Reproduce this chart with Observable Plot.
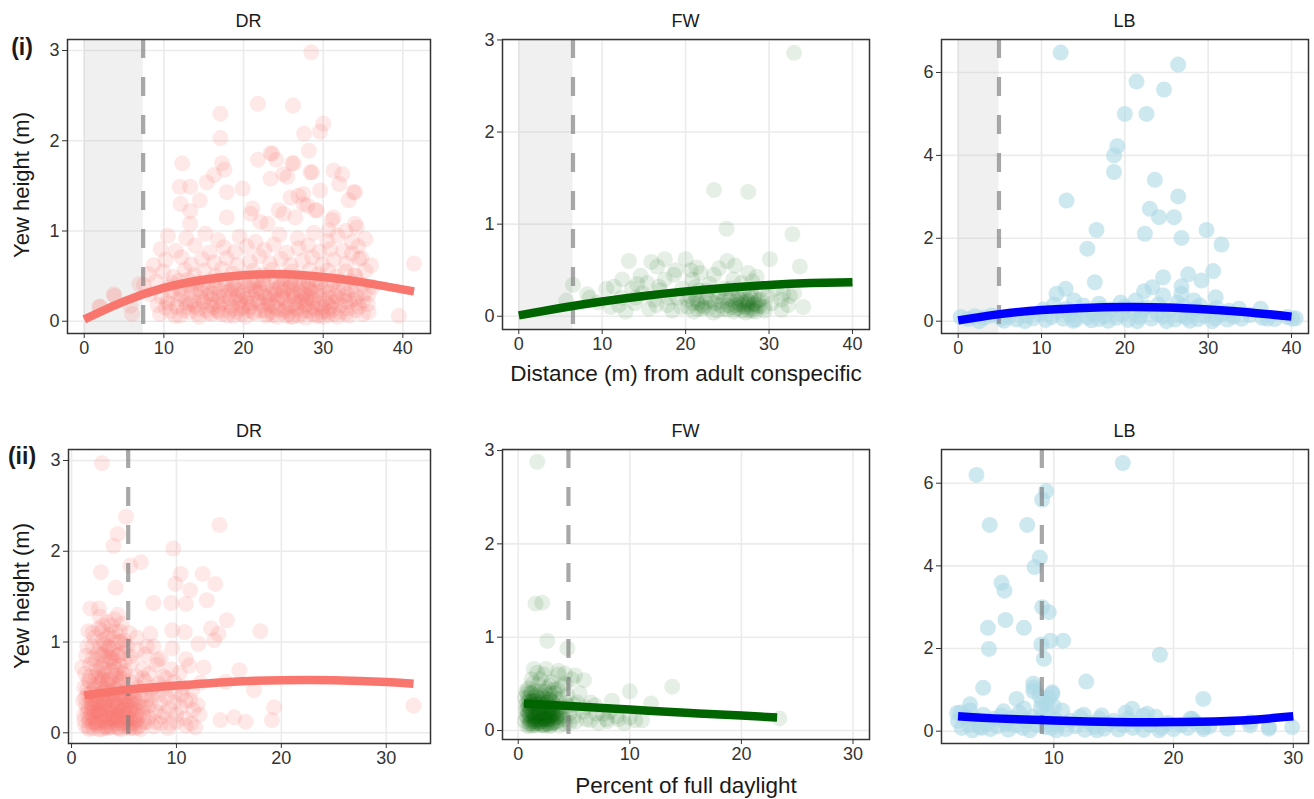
<!DOCTYPE html>
<html>
<head>
<meta charset="utf-8">
<script src="https://cdn.jsdelivr.net/npm/d3@7"></script>
<script src="https://cdn.jsdelivr.net/npm/@observablehq/plot@0.6"></script>
<style>
  body { margin: 0; background: #fff; }
  #root { position: relative; width: 1314px; height: 799px; overflow: hidden; font-family: "Liberation Sans", Arial, sans-serif; }
  .lbl { position: absolute; transform: translate(-50%, -50%); white-space: nowrap; color: #1a1a1a; }
  .panel { position: absolute; }
</style>
</head>
<body>
<div id="root"></div>
<script>
// ---------- data ----------
const sites = ["DR", "FW", "LB"];
const rowTags = ["(i)", "(ii)"];
const yTitle = "Yew height (m)";
const distTitle = "Distance (m) from adult conspecific";
const lightTitle = "Percent of full daylight";

const distTicks = [0, 10, 20, 30, 40];
const lightTicksDR = [0, 10, 20, 30];
const lightTicksFW = [0, 10, 20, 30];
const lightTicksLB = [10, 20, 30];
const yTicksSmall = [0, 1, 2, 3];
const yTicksLarge = [0, 2, 4, 6];

// thresholds (dashed lines) and shaded zones
const distThreshold = [7.4, 6.5, 4.9];
const lightThreshold = [5.4, 4.5, 9.0];

// (i) DR: distance vs height
const drDistPts = [
 [28.5,2.98],[21.8,2.41],[26.2,2.39],[17.1,2.30],[17.1,2.03],[30.0,2.19],[29.6,2.10],[27.6,2.08],[28.2,1.89],[12.3,1.75],
 [21.8,1.79],[23.4,1.86],[24.1,1.79],[26.3,1.75],[17.3,1.75],[17.6,1.68],[16.3,1.62],[28.4,1.65],[31.3,1.67],[32.4,1.63],
 [23.4,1.58],[25.0,1.63],[12.0,1.49],[13.3,1.49],[15.4,1.54],[19.9,1.47],[17.9,1.43],[34.0,1.43],[32.0,1.52],[33.2,1.34],
 [25.9,1.37],[27.5,1.41],[12.1,1.30],[13.3,1.22],[14.5,1.34],[29.0,1.23],[27.5,1.30],[31.3,1.15],[25.0,1.19],[17.9,1.15],
 [20.9,1.19],[13.3,1.08],[23.0,1.08],[34.2,1.04],[35.3,0.91],[32.8,1.00],[23.6,1.86],[26.1,1.75],[25.5,1.60],[28.6,1.65],
 [33.8,1.43],[26.9,1.39],[29.6,1.45],[29.2,1.23],[28.0,1.28],[24.4,1.23],[21.1,1.25],[22.1,1.10],[26.5,1.15],[31.1,1.12],
 [34.0,1.08],[30.7,1.01],[34.5,0.69],[33.6,0.75],[41.4,0.64],[35.7,0.30],[39.5,0.06],[35.7,0.10],[1.9,0.16],[3.8,0.28],
 [6.9,0.41],[5.8,0.17],[3.7,0.30],[6.0,0.08],[2.0,0.16],[34.0,0.50],[35.0,0.23],
 [10.5,0.95],[12.8,0.92],[15.2,0.97],[16.8,0.90],[19.5,0.94],[21.5,0.88],[24.5,0.96],[26.8,0.92],[28.8,0.98],[30.5,0.89],[31.8,0.95],[33.6,0.88],
 [9.6,0.80],[11.5,0.78],[13.9,0.84],[15.7,0.76],[17.5,0.82],[18.9,0.77],[20.4,0.83],[22.6,0.79],[23.8,0.85],[25.4,0.76],[26.9,0.81],[28.1,0.84],[29.5,0.77],[30.9,0.80],[32.5,0.78],[34.4,0.83],
 [8.7,0.62],[10.2,0.68],[12.2,0.71],[13.4,0.63],[14.8,0.69],[16.3,0.65],[17.9,0.70],[19.2,0.62],[20.8,0.66],[22.0,0.72],[23.3,0.64],[24.7,0.69],[25.9,0.62],[27.4,0.67],[28.6,0.71],[29.9,0.63],[31.3,0.68],[32.9,0.64],[34.8,0.70],[36.0,0.62],
 [8.1,0.52],[9.9,0.55],[11.2,0.49],[12.6,0.57],[13.8,0.51],[15.1,0.56],[16.5,0.50],[17.3,0.58],[18.6,0.53],[19.9,0.49],[21.2,0.56],[22.4,0.51],[23.6,0.57],[24.9,0.50],[26.1,0.55],[27.2,0.49],[28.3,0.57],[29.4,0.52],[30.6,0.56],[31.7,0.50],[32.8,0.55],[34.0,0.51],[35.3,0.56],
 [7.5,0.40],[9.0,0.44],[10.6,0.38],[11.9,0.45],[13.1,0.39],[14.2,0.43],[15.5,0.37],[16.6,0.45],[17.8,0.41],[18.9,0.36],[20.1,0.44],[21.3,0.39],[22.5,0.46],[23.6,0.38],[24.8,0.43],[25.9,0.37],[27.0,0.44],[28.1,0.40],[29.2,0.46],[30.3,0.38],[31.4,0.43],[32.6,0.37],[33.7,0.44],[35.0,0.40],[36.2,0.38],
 [8.3,0.30],[9.7,0.27],[11.0,0.33],[12.3,0.28],[13.5,0.32],[14.6,0.26],[15.8,0.31],[16.9,0.27],[18.1,0.33],[19.3,0.29],[20.4,0.25],[21.6,0.32],[22.7,0.28],[23.9,0.34],[25.0,0.26],[26.2,0.31],[27.3,0.27],[28.5,0.33],[29.6,0.28],[30.7,0.32],[31.9,0.26],[33.0,0.30],[34.2,0.27],[35.2,0.31],
 [9.2,0.18],[10.4,0.22],[11.6,0.16],[12.8,0.21],[13.9,0.17],[15.0,0.22],[16.2,0.15],[17.4,0.20],[18.5,0.17],[19.6,0.23],[20.8,0.16],[21.9,0.21],[23.1,0.18],[24.2,0.22],[25.4,0.15],[26.5,0.20],[27.7,0.17],[28.8,0.22],[29.9,0.16],[31.1,0.21],[32.2,0.18],[33.3,0.22],[34.5,0.16],[35.6,0.19],
 [9.5,0.08],[10.8,0.11],[12.0,0.06],[13.2,0.10],[14.4,0.05],[15.6,0.09],[16.8,0.12],[18.0,0.06],[19.1,0.10],[20.3,0.05],[21.4,0.09],[22.6,0.12],[23.7,0.07],[24.9,0.10],[26.0,0.05],[27.2,0.09],[28.3,0.11],[29.5,0.06],[30.6,0.10],[31.8,0.05],[32.9,0.09],[34.1,0.12],
 [18.3,0.25],[19.7,0.14],[20.9,0.35],[22.1,0.12],[23.2,0.24],[24.4,0.13],[25.6,0.36],[26.7,0.13],[27.8,0.24],[28.9,0.14],[30.0,0.35],[31.2,0.13],[14.0,0.35],[15.3,0.12],[16.0,0.25],[17.1,0.34],[25.1,0.47],[26.4,0.42],[27.6,0.30],[28.0,0.19],[29.0,0.40],[30.2,0.24],[24.0,0.30],[21.0,0.20],[19.0,0.42],[22.9,0.40],[26.0,0.28],[28.7,0.08],[25.8,0.18],[27.0,0.06],
 [10.2,0.15],[11.1,0.42],[11.8,0.24],[12.5,0.12],[13.0,0.46],[13.7,0.22],[14.3,0.14],[14.9,0.40],[15.4,0.28],[16.0,0.08],[16.4,0.38],[17.0,0.18],[17.6,0.28],[18.2,0.10],[18.7,0.40],[19.4,0.20],[19.9,0.32],[20.6,0.12],[21.1,0.27],[21.7,0.44],[22.3,0.18],[22.8,0.06],[23.4,0.30],[24.0,0.15],[24.6,0.38],[25.2,0.22],[25.7,0.09],[26.3,0.34],[26.9,0.22],[27.5,0.42],[28.0,0.28],[28.6,0.16],[29.2,0.33],[29.8,0.10],[30.4,0.20],[31.0,0.40],[31.6,0.28],[32.2,0.10],[32.8,0.22],[33.5,0.35],[34.3,0.20],[35.0,0.08],
 [12.0,0.36],[13.3,0.19],[14.6,0.33],[15.9,0.18],[17.2,0.08],[18.4,0.35],[19.8,0.08],[21.0,0.43],[22.2,0.32],[23.5,0.10],[24.7,0.25],[25.9,0.44],[27.1,0.21],[28.3,0.36],[29.5,0.19],[30.7,0.07],[31.9,0.35],[33.1,0.14],[34.0,0.38],
 [20.0,0.16],[22.0,0.36],[24.2,0.05],[26.5,0.27],[28.9,0.25],[30.9,0.16],[25.0,0.33],[27.7,0.12],[23.0,0.21],[19.0,0.26],
 [10.6,0.20],[11.4,0.06],[12.1,0.30],[12.9,0.16],[13.6,0.40],[14.2,0.09],[14.9,0.21],[15.6,0.44],[16.3,0.30],[16.9,0.10],[17.5,0.38],[18.1,0.22],[18.8,0.06],[19.4,0.34],[20.0,0.28],[20.6,0.40],[21.2,0.10],[21.8,0.24],[22.4,0.42],[23.0,0.08],[23.6,0.18],[24.2,0.36],[24.8,0.28],[25.4,0.06],[26.0,0.40],[26.6,0.16],[27.2,0.32],[27.8,0.04],[28.4,0.26],[29.0,0.06],[29.6,0.42],[30.2,0.12],[30.8,0.26],[31.4,0.08],[32.0,0.44],[32.6,0.28],[33.2,0.06],[33.9,0.24],[20.4,0.20],[22.9,0.26],[25.3,0.12],[27.9,0.36],[30.0,0.05],[31.5,0.22],[18.6,0.14],[16.7,0.22],[24.1,0.44],[26.2,0.05],[28.2,0.44],[21.5,0.34]
];
const drDistFitX = [0.0, 5, 10, 15, 20, 25, 30, 35, 41.4];
const drDistFitY = [0.02, 0.22, 0.37, 0.46, 0.51, 0.52, 0.49, 0.43, 0.33];

// (i) FW: distance vs height
const fwDistPts = [
 [33.0,2.86],[23.4,1.37],[27.5,1.35],[24.9,0.95],[32.8,0.89],[33.7,0.54],[30.1,0.62],[20.0,0.62],[17.5,0.62],[13.2,0.60],
 [15.9,0.59],[16.6,0.54],[25.0,0.60],[25.9,0.55],[21.3,0.53],[27.5,0.47],[28.5,0.43],[12.4,0.40],[14.6,0.44],[14.2,0.35],
 [6.5,0.34],[5.7,0.17],[8.2,0.24],[11.4,0.32],[18.6,0.45],[20.6,0.50],[23.4,0.45],[31.7,0.24],[32.5,0.22],[34.1,0.10],[31.5,0.07],
 [9.5,0.15],[11.0,0.10],[12.3,0.20],[12.8,0.05],[13.9,0.14],[14.8,0.25],[15.6,0.08],[16.2,0.18],[17.0,0.28],[17.8,0.12],
 [18.4,0.06],[19.0,0.20],[19.6,0.30],[20.3,0.10],[20.8,0.40],[21.0,0.05],[21.3,0.18],[21.6,0.28],[22.0,0.08],[22.4,0.15],
 [22.9,0.35],[23.3,0.04],[23.8,0.22],[24.2,0.12],[24.6,0.30],[25.0,0.07],[25.3,0.18],[25.7,0.40],[26.0,0.12],[26.4,0.25],
 [26.8,0.06],[27.1,0.15],[27.4,0.10],[27.8,0.20],[28.1,0.13],[28.4,0.05],[28.7,0.17],[29.0,0.28],[29.4,0.10],[29.8,0.22],
 [30.3,0.14],[30.8,0.30],[31.5,0.18],[32.3,0.12],[33.0,0.25],[17.5,0.40],[18.8,0.50],[15.4,0.36],[13.6,0.30],[21.8,0.47],
 [24.0,0.52],[26.7,0.36],[28.0,0.38],[21.2,0.32],[27.0,0.28],[20.5,0.22],[26.3,0.09],[22.8,0.09],[24.8,0.20],[28.6,0.09],
 [27.6,0.06],[10.5,0.30],[8.5,0.20],[16.8,0.32],[20.9,0.14],[21.4,0.08],[21.9,0.12],[25.5,0.10],[26.1,0.16],[26.9,0.12],
 [27.3,0.18],[27.9,0.09],[28.3,0.14],[28.9,0.11],[25.8,0.05],[27.2,0.04],[26.5,0.13],[24.5,0.08],[22.5,0.20],[23.5,0.14],
 [21.1,0.24],[27.5,0.13],[28.2,0.21],[26.2,0.20],
 [20.2,0.18],[21.5,0.14],[22.2,0.10],[23.0,0.17],[23.8,0.06],[24.4,0.16],[25.1,0.12],[25.6,0.22],[26.0,0.08],[26.6,0.18],
 [27.0,0.10],[27.5,0.16],[28.0,0.06],[28.5,0.12],[29.0,0.18],[29.5,0.06],[22.6,0.28],[24.0,0.26],[25.4,0.30],[27.8,0.26],
 [19.5,0.10],[18.0,0.20],[16.5,0.12],[14.0,0.20],[12.0,0.12]
];
const fwDistFitX = [0, 5, 10, 15, 20, 25, 30, 35, 40];
const fwDistFitY = [0.01, 0.09, 0.16, 0.22, 0.27, 0.31, 0.34, 0.36, 0.37];

// (i) LB: distance vs height
const lbDistPts = [
 [12.3,6.48],[26.4,6.19],[21.4,5.78],[24.7,5.59],[20.0,5.00],[22.6,5.00],[19.1,4.22],[18.7,4.00],[18.7,3.60],[23.6,3.41],
 [26.4,3.01],[13.0,2.91],[23.0,2.71],[24.1,2.51],[25.9,2.51],[16.6,2.20],[29.8,2.20],[22.4,2.11],[26.8,2.01],[15.5,1.75],
 [31.6,1.85],[30.6,1.21],[27.6,1.13],[24.6,1.06],[29.2,0.98],[16.4,0.94],[26.8,0.84],[23.3,0.82],[22.3,0.72],[12.9,0.78],
 [11.8,0.66],[26.8,0.66],[24.6,0.62],[30.9,0.58],[13.9,0.50],[16.9,0.42],[21.3,0.50],[28.3,0.50],[33.7,0.30],[36.3,0.30],
 [37.1,0.06],[40.1,0.06],
 [0.3,0.10],[1.2,0.05],[2.0,0.12],[3.1,0.08],[4.0,0.14],[5.2,0.06],[6.1,0.11],[7.0,0.04],[8.2,0.13],[9.0,0.07],
 [9.8,0.18],[10.5,0.03],[11.2,0.10],[12.0,0.22],[12.6,0.06],[13.4,0.15],[14.1,0.04],[14.8,0.25],[15.5,0.09],[16.2,0.17],
 [16.9,0.05],[17.6,0.12],[18.3,0.28],[19.0,0.08],[19.7,0.16],[20.4,0.03],[21.1,0.21],[21.8,0.10],[22.5,0.33],[23.2,0.06],
 [23.9,0.18],[24.6,0.11],[25.3,0.26],[26.0,0.04],[26.7,0.14],[27.4,0.09],[28.1,0.20],[28.8,0.05],[29.5,0.13],[30.2,0.24],
 [30.9,0.07],[31.6,0.17],[32.3,0.04],[33.0,0.11],[34.0,0.06],[35.0,0.15],[36.5,0.08],[38.0,0.05],[39.5,0.10],[40.5,0.07],
 [11.5,0.40],[15.0,0.38],[17.2,0.30],[20.0,0.35],[24.0,0.40],[27.0,0.36],[29.0,0.38],[31.0,0.32],[13.0,0.30],[19.5,0.45],
 [22.0,0.25],[26.3,0.45],[10.2,0.28],[28.5,0.30],[32.5,0.25],[16.0,0.02],[18.0,0.01],[25.0,0.00],[27.8,0.01],[30.5,0.00],
 [21.5,0.00],[13.8,0.01],[8.0,0.00],[5.5,0.01],[2.5,0.00]
];
const lbDistFitX = [0, 5, 10, 15, 20, 25, 30, 35, 40];
const lbDistFitY = [0.02, 0.17, 0.27, 0.32, 0.34, 0.33, 0.28, 0.21, 0.11];

// (ii) DR: light vs height
const drLightPts = [
 [2.9,2.97],[5.2,2.38],[14.1,2.29],[4.4,2.19],[4.0,2.06],[9.7,2.03],[6.6,1.88],[5.6,1.84],[2.8,1.77],[10.4,1.75],
 [12.5,1.75],[13.7,1.64],[9.9,1.64],[4.2,1.60],[11.3,1.57],[12.9,1.46],[7.8,1.43],[9.5,1.43],[10.9,1.42],[1.8,1.37],
 [2.6,1.37],[14.8,1.24],[13.3,1.15],[9.6,1.13],[10.8,1.11],[18.0,1.12],[14.0,1.09],[7.5,1.09],[12.1,0.98],[13.6,1.02],
 [9.6,0.93],[10.9,0.81],[16.0,0.69],[12.6,0.72],[14.7,0.56],[17.4,0.47],[32.6,0.30],[19.3,0.28],[19.1,0.14],[16.6,0.12],
 [15.5,0.17],[14.2,0.14],
 [2.2,1.05],[3.0,1.18],[3.6,1.08],[4.1,1.25],[4.6,1.12],[5.0,1.02],[2.7,1.28],[3.4,1.22],[4.8,1.20],[5.5,1.10],[1.6,1.12],[6.2,1.05],
 [1.4,0.85],[2.0,0.95],[2.5,0.88],[3.1,0.98],[3.6,0.83],[4.0,0.92],[4.5,0.86],[5.0,0.97],[5.6,0.84],[6.3,0.91],[7.0,0.86],[7.8,0.95],[8.5,0.82],[1.0,0.72],[3.3,0.90],
 [1.3,0.65],[1.8,0.75],[2.3,0.62],[2.8,0.72],[3.2,0.66],[3.7,0.78],[4.2,0.63],[4.6,0.74],[5.1,0.68],[5.7,0.77],[6.2,0.62],[6.8,0.70],[7.4,0.65],[8.1,0.75],[8.8,0.62],[9.5,0.70],[10.3,0.66],[11.2,0.74],
 [1.2,0.50],[1.7,0.57],[2.1,0.47],[2.6,0.55],[3.0,0.49],[3.5,0.58],[3.9,0.46],[4.4,0.53],[4.9,0.59],[5.3,0.48],[5.8,0.55],[6.4,0.50],[7.0,0.57],[7.6,0.47],[8.3,0.54],[9.0,0.49],[9.8,0.56],[10.6,0.50],[11.5,0.47],[12.3,0.55],
 [1.1,0.35],[1.5,0.42],[1.9,0.32],[2.3,0.40],[2.7,0.33],[3.1,0.44],[3.5,0.36],[3.9,0.41],[4.3,0.31],[4.7,0.43],[5.1,0.35],[5.6,0.40],[6.0,0.32],[6.5,0.44],[7.1,0.36],[7.7,0.41],[8.4,0.33],[9.1,0.39],[9.8,0.34],[10.5,0.42],[11.3,0.36],[12.0,0.31],
 [1.2,0.20],[1.6,0.27],[2.0,0.17],[2.4,0.25],[2.8,0.19],[3.2,0.28],[3.6,0.16],[4.0,0.24],[4.4,0.18],[4.8,0.29],[5.2,0.21],[5.6,0.15],[6.0,0.26],[6.4,0.19],[6.9,0.28],[7.4,0.17],[8.0,0.24],[8.6,0.18],[9.3,0.27],[10.0,0.20],[10.8,0.16],[11.6,0.25],
 [1.3,0.08],[1.7,0.13],[2.1,0.05],[2.5,0.11],[2.9,0.04],[3.3,0.12],[3.7,0.07],[4.1,0.14],[4.5,0.05],[4.9,0.10],[5.3,0.13],[5.7,0.06],[6.1,0.11],[6.6,0.04],[7.2,0.12],[7.8,0.07],[8.5,0.10],[9.2,0.05],[10.0,0.12],[10.9,0.08],[11.8,0.06],
 [2.0,0.30],[2.6,0.22],[3.0,0.12],[3.4,0.32],[3.8,0.22],[4.2,0.10],[4.6,0.38],[5.0,0.26],[5.4,0.08],[5.8,0.30],[2.2,0.42],[3.3,0.47],[4.0,0.52],[4.5,0.25],[2.8,0.55],[1.8,0.22],[2.4,0.09],[3.6,0.40],[4.9,0.17],[5.5,0.35],[6.2,0.14],[2.9,0.62],[3.8,0.68],[4.4,0.85],[3.5,0.95],[4.0,1.05],
 [1.2,0.14],[1.4,0.30],[1.6,0.06],[1.8,0.38],[2.0,0.22],[2.2,0.12],[2.4,0.34],[2.6,0.04],[2.8,0.26],[3.0,0.40],[3.2,0.18],[3.4,0.08],[3.6,0.28],[3.8,0.44],[4.0,0.16],[4.2,0.34],[4.4,0.06],[4.6,0.22],[4.8,0.40],[5.0,0.12],[5.2,0.30],[5.4,0.20],[5.6,0.44],[5.8,0.10],[6.0,0.36],[6.2,0.24],[6.5,0.08],[6.8,0.20],[7.0,0.42],[7.3,0.28],
 [1.5,0.48],[2.0,0.10],[2.5,0.42],[3.0,0.26],[3.5,0.05],[4.0,0.36],[4.5,0.14],[5.0,0.45],[5.5,0.24],[6.0,0.05],[1.9,0.28],[2.7,0.14],[3.4,0.20],[4.3,0.26],[5.1,0.06],[5.9,0.16],[2.3,0.18],[3.1,0.34],[3.9,0.30],[4.7,0.10],
 [1.7,0.16],[2.5,0.24],[3.3,0.06],[4.1,0.20],[4.9,0.33],[5.7,0.26],[6.4,0.34],[3.7,0.12],[2.9,0.30],[2.1,0.36],
 [1.8,0.62],[2.3,0.80],[2.7,0.95],[3.1,0.70],[3.4,1.05],[3.9,0.88],[4.3,0.70],[4.7,1.00],[5.1,0.80],[2.0,1.10],[2.5,0.68],[3.0,0.85],[3.6,0.58],[4.1,0.78],[4.6,0.60],[5.3,0.95],[2.9,1.12],[3.8,1.18],[4.4,1.30],[1.5,0.95],
 [7.5,0.30],[8.0,0.12],[8.4,0.42],[8.9,0.22],[9.4,0.10],[9.9,0.44],[10.4,0.28],[10.9,0.35],[11.4,0.10],[12.2,0.20],[7.8,0.50],[9.0,0.60],[8.2,0.80],[6.8,0.60],[7.2,0.95],
 [1.3,0.38],[1.5,0.22],[1.7,0.04],[1.9,0.44],[2.1,0.26],[2.3,0.10],[2.5,0.32],[2.7,0.20],[2.9,0.44],[3.1,0.06],[3.3,0.36],[3.5,0.24],[3.7,0.16],[3.9,0.06],[4.1,0.42],[4.3,0.18],[4.5,0.30],[4.7,0.04],[4.9,0.24],[5.1,0.40],[5.3,0.16],[5.5,0.05],[5.7,0.34],[5.9,0.42],[6.1,0.20],[6.3,0.06],[6.6,0.28],[6.9,0.12],
 [2.2,0.52],[2.6,0.60],[3.0,0.58],[3.4,0.54],[3.8,0.60],[4.2,0.48],[4.6,0.56],[5.0,0.64],[1.6,0.58],[2.4,0.72],[3.2,0.78],[4.0,0.74],[4.8,0.66],[2.0,0.82],[2.8,0.86],[3.6,0.94],[4.4,1.00],[3.0,1.02],[2.6,1.15],[3.8,0.82],[4.2,1.12],[4.9,0.88]
];
const drLightFitX = [1.2, 5, 10, 15, 20, 25, 30, 32.6];
const drLightFitY = [0.41, 0.47, 0.52, 0.56, 0.58, 0.58, 0.56, 0.54];

// (ii) FW: light vs height
const fwLightPts = [
 [1.7,2.88],[1.55,1.36],[2.15,1.37],[2.6,0.96],[4.4,0.88],[13.8,0.47],[10.0,0.42],[8.4,0.32],[6.9,0.27],[11.9,0.29],
 [23.4,0.13],[5.9,0.54],[5.1,0.59],[1.4,0.66],[2.5,0.66],[3.6,0.64],[4.2,0.61],[11.1,0.11],[10.0,0.14],[7.9,0.12],[6.5,0.11],[10.5,0.11],
 [0.6,0.35],[0.8,0.15],[0.9,0.45],[1.0,0.25],[1.1,0.08],[1.2,0.55],[1.3,0.32],[1.4,0.18],[1.5,0.42],[1.6,0.10],
 [1.7,0.28],[1.8,0.50],[1.9,0.20],[2.0,0.06],[2.1,0.38],[2.2,0.15],[2.3,0.60],[2.4,0.26],[2.5,0.10],[2.6,0.45],
 [2.7,0.20],[2.8,0.33],[2.9,0.05],[3.0,0.52],[3.1,0.16],[3.2,0.28],[3.3,0.40],[3.4,0.09],[3.5,0.22],[3.6,0.60],
 [3.7,0.34],[3.8,0.14],[3.9,0.48],[4.0,0.25],[4.2,0.07],[4.4,0.38],[4.6,0.18],[4.8,0.55],[5.0,0.28],[5.2,0.10],
 [5.5,0.40],[5.8,0.20],[6.1,0.12],[6.5,0.30],[7.2,0.08],[7.6,0.18],[8.0,0.10],[8.8,0.15],[9.5,0.08],[0.7,0.22],
 [1.0,0.12],[1.3,0.05],[1.6,0.20],[1.9,0.12],[2.2,0.30],[2.5,0.18],[2.8,0.12],[3.1,0.24],[1.2,0.28],[1.5,0.15],
 [1.8,0.08],[2.1,0.22],[2.4,0.13],[2.7,0.08],[3.0,0.19],[3.3,0.13],[0.9,0.18],[1.4,0.35],[2.0,0.42],[2.6,0.30],
 [3.5,0.15],[4.1,0.12],[4.5,0.26],[1.1,0.40],[1.7,0.62],[2.9,0.40],[0.8,0.30],[1.3,0.12],[2.3,0.05],[3.7,0.05],
 [0.6,0.10],[0.7,0.28],[0.8,0.05],[0.9,0.35],[1.0,0.18],[1.1,0.30],[1.2,0.10],[1.3,0.22],[1.4,0.06],[1.5,0.32],
 [1.6,0.15],[1.7,0.24],[1.8,0.35],[1.9,0.08],[2.0,0.18],[2.1,0.28],[2.2,0.06],[2.3,0.20],[2.4,0.34],[2.5,0.12],
 [2.6,0.24],[2.7,0.15],[2.8,0.05],[2.9,0.22],[3.0,0.32],[3.1,0.08],[3.2,0.18],[3.3,0.26],[3.4,0.15],[3.6,0.10],
 [3.8,0.22],[4.0,0.16],[4.3,0.30],[4.6,0.08],[5.0,0.15],[0.8,0.22],[1.1,0.16],[1.4,0.26],[1.7,0.12],[2.0,0.25],
 [2.3,0.13],[2.6,0.07],[2.9,0.14],[3.2,0.09],[1.0,0.05],[1.6,0.06],[2.2,0.36],[0.7,0.42],[1.3,0.50],[2.0,0.55],
 [2.8,0.48],[3.5,0.44],[4.2,0.50],[5.3,0.30],[6.0,0.25],[7.0,0.18],[8.2,0.20],[9.0,0.12],
 [0.7,0.16],[0.9,0.26],[1.0,0.08],[1.2,0.20],[1.3,0.30],[1.5,0.10],[1.6,0.28],[1.8,0.18],[1.9,0.30],[2.1,0.10],
 [2.2,0.24],[2.4,0.06],[2.5,0.30],[2.7,0.22],[2.8,0.16],[3.0,0.08],[3.1,0.30],[3.3,0.20],[3.4,0.34],[3.6,0.18],
 [0.8,0.40],[1.2,0.40],[1.6,0.38],[2.0,0.34],[2.4,0.42],[2.8,0.38],[3.2,0.44],[1.1,0.22],[1.5,0.08],[1.9,0.16],
 [2.3,0.27],[2.7,0.12],[3.1,0.18],[1.4,0.14],[1.8,0.24],[2.2,0.12],[2.6,0.20],[3.0,0.25],[1.0,0.32],[2.0,0.10]
];
const fwLightFitX = [0.5, 5, 10, 15, 20, 23.2];
const fwLightFitY = [0.29, 0.26, 0.225, 0.19, 0.16, 0.14];

// (ii) LB: light vs height
const lbLightPts = [
 [3.54,6.20],[15.76,6.49],[9.37,5.81],[9.03,5.60],[4.65,4.99],[7.78,4.99],[8.83,4.20],[8.39,3.97],[5.63,3.59],[5.88,3.40],
 [9.03,3.00],[9.58,2.88],[5.96,2.69],[4.49,2.50],[7.50,2.50],[4.58,1.99],[10.78,2.19],[9.72,2.19],[8.95,2.10],[9.17,1.75],
 [18.86,1.85],[12.71,1.20],[4.10,1.05],[8.28,1.15],[8.28,0.97],[9.87,0.94],[6.88,0.78],[22.48,0.78],[3.0,0.65],[16.55,0.54],
 [1.93,0.44],[29.9,0.10],[27.96,0.10],[26.4,0.22],[21.56,0.30],[22.48,0.10],[8.33,1.06],[9.87,0.90],[27.96,0.06],[26.4,0.14],
 [17.8,0.42],[21.4,0.30],
 [2.0,0.25],[2.3,0.08],[2.6,0.35],[2.9,0.15],[3.2,0.02],[3.5,0.28],[3.8,0.10],[4.1,0.40],[4.4,0.18],[4.7,0.05],
 [5.0,0.30],[5.3,0.12],[5.6,0.38],[5.9,0.22],[6.2,0.04],[6.5,0.32],[6.8,0.14],[7.1,0.45],[7.4,0.08],[7.7,0.25],
 [8.0,0.02],[8.3,0.35],[8.6,0.15],[8.9,0.55],[9.2,0.22],[9.5,0.42],[9.8,0.08],[10.1,0.30],[10.4,0.16],[10.7,0.50],
 [11.0,0.05],[11.4,0.25],[11.8,0.12],[12.2,0.35],[12.6,0.03],[13.0,0.20],[13.4,0.10],[13.8,0.30],[14.2,0.06],[14.6,0.18],
 [15.0,0.25],[15.4,0.04],[15.8,0.14],[16.2,0.30],[16.6,0.08],[17.0,0.20],[17.5,0.03],[18.0,0.15],[18.5,0.35],[19.0,0.08],
 [19.5,0.20],[20.0,0.05],[20.6,0.15],[21.2,0.08],[21.8,0.22],[22.5,0.05],[23.0,0.12],[24.5,0.06],[9.0,0.70],[9.4,0.65],
 [9.6,0.80],[8.8,0.85],[10.0,0.60],[3.0,0.50],[2.2,0.45],[5.8,0.48],[7.5,0.55],[12.5,0.40],[14.0,0.38],[16.0,0.45],
 [17.5,0.38],[9.3,0.10],[9.0,0.35],[10.2,0.02],[6.0,0.18],[4.0,0.08],[13.6,0.02],[18.8,0.02]
];
const lbLightFitX = [2, 5, 10, 15, 20, 25, 30];
const lbLightFitY = [0.36, 0.31, 0.26, 0.225, 0.22, 0.25, 0.36];

// ---------- styles ----------
const FONT = "Liberation Sans, Arial, sans-serif";
const siteStyle = {
  DR: { fill: "#F8766D", opacity: 0.16, line: "#F8766D" },
  FW: { fill: "#006400", opacity: 0.1, line: "#006400" },
  LB: { fill: "#ADD8E6", opacity: 0.6, line: "#0000FF" }
};

const root = document.getElementById("root");

function makePanel(cfg) {
  const mL = 45, mR = 6, mT = 6, mB = 32;
  const w = cfg.frame[2] - cfg.frame[0];
  const h = cfg.frame[3] - cfg.frame[1];
  const st = siteStyle[cfg.site];
  const fit = cfg.fitX.map((x, i) => ({ x, y: cfg.fitY[i] }));
  const marks = [
    Plot.gridX(cfg.xTicks, { stroke: "#ebebeb", strokeOpacity: 1, strokeWidth: 1.6 }),
    Plot.gridY(cfg.yTicks, { stroke: "#ebebeb", strokeOpacity: 1, strokeWidth: 1.6 })
  ];
  if (cfg.shade != null) {
    marks.push(Plot.rect([{ a: 0, b: cfg.shade }], { x1: "a", x2: "b", fill: "#b3b3b3", fillOpacity: 0.2 }));
  }
  marks.push(
    Plot.dot(cfg.pts, { x: d => d[0], y: d => d[1], r: 8, fill: st.fill, fillOpacity: st.opacity, stroke: "none", clip: true }),
    Plot.ruleX([cfg.vline], { stroke: "#7a7a7a", strokeOpacity: 0.65, strokeWidth: 4.2, strokeDasharray: "19,19" }),
    Plot.line(fit, { x: "x", y: "y", stroke: st.line, strokeWidth: 8.5, curve: "natural", strokeLinecap: "butt" }),
    Plot.frame({ stroke: "#333", strokeWidth: 1.5 }),
    Plot.axisX(cfg.xTicks, { tickSize: 5, tickPadding: 3, label: null, fontSize: 18, stroke: "#333", fill: "#333", tickFormat: d3.format("d") }),
    Plot.axisY(cfg.yTicks, { tickSize: 5, tickPadding: 3, label: null, fontSize: 18, stroke: "#333", fill: "#333", tickFormat: d3.format("d") })
  );
  const svg = Plot.plot({
    width: w + mL + mR,
    height: h + mT + mB,
    marginLeft: mL, marginRight: mR, marginTop: mT, marginBottom: mB,
    x: { domain: cfg.xDomain, nice: false },
    y: { domain: cfg.yDomain, nice: false },
    style: { fontFamily: FONT, fontSize: "18px", color: "#333", background: "transparent", overflow: "visible" },
    marks
  });
  svg.classList.add("panel");
  svg.style.left = (cfg.frame[0] - mL) + "px";
  svg.style.top = (cfg.frame[1] - mT) + "px";
  root.appendChild(svg);

  addLabel(cfg.site, (cfg.frame[0] + cfg.frame[2]) / 2, cfg.frame[1] - 18, 18, "normal");
}

function addLabel(text, x, y, size, weight, rotate) {
  const d = document.createElement("div");
  d.className = "lbl";
  d.textContent = text;
  d.style.left = x + "px";
  d.style.top = y + "px";
  d.style.fontSize = size + "px";
  d.style.fontWeight = weight;
  if (rotate) d.style.transform = "translate(-50%, -50%) rotate(-90deg)";
  root.appendChild(d);
}

const panels = [
  { site: "DR", pts: drDistPts, fitX: drDistFitX, fitY: drDistFitY, vline: distThreshold[0], shade: distThreshold[0],
    frame: [67, 39, 430, 333], xDomain: [-2.10, 43.47], yDomain: [-0.136, 3.122], xTicks: distTicks, yTicks: yTicksSmall },
  { site: "FW", pts: fwDistPts, fitX: fwDistFitX, fitY: fwDistFitY, vline: distThreshold[1], shade: distThreshold[1],
    frame: [502, 39, 869, 329], xDomain: [-1.95, 42.04], yDomain: [-0.144, 3.005], xTicks: distTicks, yTicks: yTicksSmall },
  { site: "LB", pts: lbDistPts, fitX: lbDistFitX, fitY: lbDistFitY, vline: distThreshold[2], shade: distThreshold[2],
    frame: [941, 39, 1308, 333], xDomain: [-2.00, 42.04], yDomain: [-0.297, 6.796], xTicks: distTicks, yTicks: yTicksLarge },
  { site: "DR", pts: drLightPts, fitX: drLightFitX, fitY: drLightFitY, vline: lightThreshold[0], shade: null,
    frame: [68, 449, 430, 743], xDomain: [-0.29, 34.22], yDomain: [-0.118, 3.121], xTicks: lightTicksDR, yTicks: yTicksSmall },
  { site: "FW", pts: fwLightPts, fitX: fwLightFitX, fitY: fwLightFitY, vline: lightThreshold[1], shade: null,
    frame: [502, 449, 869, 739], xDomain: [-1.41, 31.48], yDomain: [-0.096, 3.011], xTicks: lightTicksFW, yTicks: yTicksSmall },
  { site: "LB", pts: lbLightPts, fitX: lbLightFitX, fitY: lbLightFitY, vline: lightThreshold[2], shade: null,
    frame: [941, 449, 1308, 743], xDomain: [0.62, 31.27], yDomain: [-0.298, 6.816], xTicks: lightTicksLB, yTicks: yTicksLarge }
];
panels.forEach(makePanel);

addLabel(rowTags[0], 22, 47, 23, "bold");
addLabel(rowTags[1], 22, 456, 23, "bold");
addLabel(yTitle, 22, 185, 22, "normal", true);
addLabel(yTitle, 22, 596, 22, "normal", true);
addLabel(distTitle, 686, 374, 22.5, "normal");
addLabel(lightTitle, 686, 786, 22.5, "normal");
</script>
</body>
</html>
